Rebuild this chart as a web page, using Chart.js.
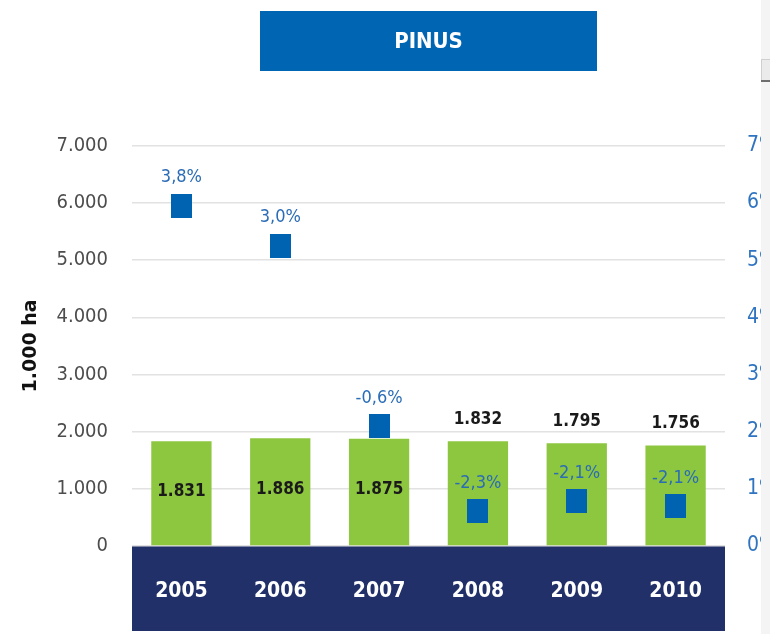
<!DOCTYPE html>
<html>
<head>
<meta charset="utf-8">
<script src="https://cdn.jsdelivr.net/npm/chart.js@4"></script>
<style>
  html, body { margin: 0; padding: 0; background: #ffffff; }
  canvas { display: block; }
</style>
</head>
<body>
<canvas id="c" width="770" height="634"></canvas>
<script>
// ---- data ----
const years = ['2005', '2006', '2007', '2008', '2009', '2010'];
const areaValues = [1831, 1886, 1875, 1832, 1795, 1756];          // 1.000 ha
const areaLabels = ['1.831', '1.886', '1.875', '1.832', '1.795', '1.756'];
const rateValues = [3.8, 3.0, -0.6, -2.3, -2.1, -2.2];            // % change
const rateLabels = ['3,8%', '3,0%', '-0,6%', '-2,3%', '-2,1%', '-2,1%'];
const leftTicks = [0, 1000, 2000, 3000, 4000, 5000, 6000, 7000];
const rightTicks = [0, 1, 2, 3, 4, 5, 6, 7];
const chartTitle = 'PINUS';
const axisTitle = '1.000 ha';

const NARROW = "'Liberation Sans Narrow', 'DejaVu Sans Condensed', sans-serif";
const GREEN = '#8dc63f';
const BLUE = '#0063b2';
const LABEL_BLUE = '#2a6cb6';
const NAVY = '#22306a';

function fmtThousands(v) {
  const s = String(Math.round(v));
  return s.replace(/\B(?=(\d{3})+(?!\d))/g, '.');
}

// marker image (rectangle)
const marker = document.createElement('canvas');
marker.width = 21; marker.height = 24;
(function () { const g = marker.getContext('2d'); g.fillStyle = BLUE; g.fillRect(0, 0, 21, 24); })();

const decorPlugin = {
  id: 'decor',
  beforeDraw(chart) {
    const { ctx, chartArea } = chart;
    ctx.save();
    const cx = (chartArea.left + chartArea.right) / 2;
    ctx.fillStyle = '#0065b3';
    ctx.fillRect(cx - 168.5, 11, 337, 60);
    ctx.fillStyle = NAVY;
    ctx.fillRect(chartArea.left, chartArea.bottom, chartArea.right - chartArea.left, 85);
    ctx.restore();
  },
  afterDatasetsDraw(chart) {
    const { ctx } = chart;
    const bars = chart.getDatasetMeta(1).data;
    const pts = chart.getDatasetMeta(0).data;
    ctx.save();
    ctx.textAlign = 'center';
    ctx.textBaseline = 'middle';
    bars.forEach((bar, i) => {
      const pt = pts[i];
      ctx.fillStyle = '#1a1a1a';
      ctx.font = "bold 17px " + NARROW;
      const inside = pt.y + 12 <= bar.y; // marker above the bar -> value label inside bar
      const ly = inside ? (bar.y + bar.base) / 2 - 2 : bar.y - 22;
      ctx.fillText(areaLabels[i], bar.x, ly);
      ctx.fillStyle = LABEL_BLUE;
      ctx.font = "18px " + NARROW;
      ctx.fillText(rateLabels[i], pt.x, pt.y - 28);
    });
    ctx.restore();
  },
  afterDraw(chart) {
    const { ctx } = chart;
    ctx.save();
    ctx.fillStyle = '#f4f4f4';
    ctx.fillRect(761, 0, 9, 634);
    ctx.fillStyle = '#ebebeb';
    ctx.fillRect(761, 59, 9, 23);
    ctx.strokeStyle = '#cfcfcf';
    ctx.lineWidth = 1;
    ctx.strokeRect(761.5, 59.5, 9, 22);
    ctx.fillStyle = '#6e6e6e';
    ctx.fillRect(761, 80, 9, 2);
    ctx.restore();
  }
};

new Chart(document.getElementById('c'), {
  data: {
    labels: years,
    datasets: [
      {
        type: 'line',
        data: rateValues,
        yAxisID: 'y3',
        showLine: false,
        pointStyle: marker,
        pointRadius: 12,
        order: 0
      },
      {
        type: 'bar',
        data: areaValues,
        yAxisID: 'y',
        backgroundColor: GREEN,
        borderWidth: 0,
        categoryPercentage: 1,
        barPercentage: 0.61,
        order: 1
      }
    ]
  },
  options: {
    responsive: false,
    devicePixelRatio: 1,
    animation: false,
    layout: { padding: 0 },
    plugins: {
      legend: { display: false },
      tooltip: { enabled: false },
      title: {
        display: true,
        text: chartTitle,
        fullSize: false,
        color: '#ffffff',
        font: { family: NARROW, size: 22, weight: 'bold', lineHeight: 1.2 },
        padding: { top: 29.3, bottom: 90 }
      }
    },
    scales: {
      x: {
        position: 'bottom',
        grid: { display: false, drawTicks: false },
        border: { display: false },
        ticks: { color: '#ffffff', font: { family: NARROW, size: 21, weight: 'bold' }, padding: 33 },
        afterFit(s) { s.height = 88; }
      },
      y: {
        position: 'left',
        min: 0, max: 7000,
        afterBuildTicks(s) { s.ticks = leftTicks.map(v => ({ value: v })); },
        grid: { color: '#e2e2e2', lineWidth: 1.5, drawTicks: false },
        border: { display: false },
        ticks: {
          color: '#4d4d4d',
          font: { family: NARROW, size: 20 },
          padding: 24,
          callback: v => fmtThousands(v)
        },
        title: {
          display: true,
          text: axisTitle,
          color: '#111111',
          font: { family: "'DejaVu Sans', Verdana, sans-serif", size: 19, weight: 'bold', lineHeight: 1.2 },
          padding: { top: 19.5, bottom: 0 }
        },
        afterFit(s) { s.width = 132; }
      },
      y2: {
        position: 'right',
        min: 0, max: 7,
        afterBuildTicks(s) { s.ticks = rightTicks.map(v => ({ value: v })); },
        grid: { display: false, drawTicks: false },
        border: { display: false },
        ticks: {
          color: '#2f74c0',
          font: { family: NARROW, size: 21 },
          padding: 22,
          callback: v => v + '%'
        },
        afterFit(s) { s.width = 45; }
      },
      y3: {
        display: false,
        position: 'right',
        min: -3, max: 5
      }
    }
  },
  plugins: [decorPlugin]
});
</script>
</body>
</html>
